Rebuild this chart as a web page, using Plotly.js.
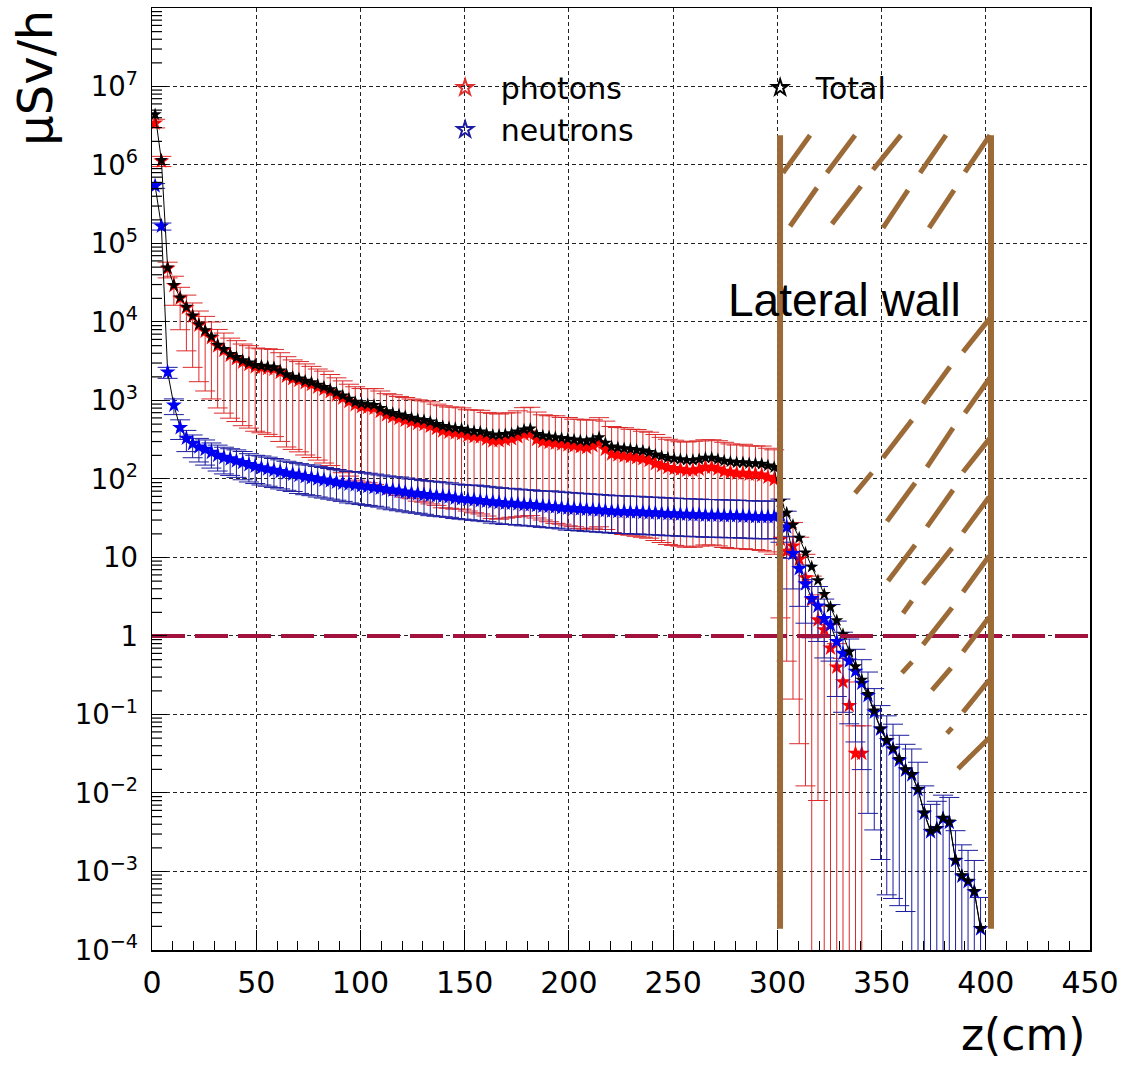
<!DOCTYPE html>
<html>
<head>
<meta charset="utf-8">
<script src="https://cdn.plot.ly/plotly-3.0.1.min.js"></script>
<style>html,body{margin:0;padding:0;background:#fff;}#chart{width:1123px;height:1065px;}</style>
</head>
<body>
<div id="chart"></div>
<script>
// depth z (cm), bin centres
const z = [
1.5,4.5,7.5,10.5,13.5,16.5,19.5,22.5,25.5,28.5,
31.5,34.5,37.5,40.5,43.5,46.5,49.5,52.5,55.5,58.5,
61.5,64.5,67.5,70.5,73.5,76.5,79.5,82.5,85.5,88.5,
91.5,94.5,97.5,100.5,103.5,106.5,109.5,112.5,115.5,118.5,
121.5,124.5,127.5,130.5,133.5,136.5,139.5,142.5,145.5,148.5,
151.5,154.5,157.5,160.5,163.5,166.5,169.5,172.5,175.5,178.5,
181.5,184.5,187.5,190.5,193.5,196.5,199.5,202.5,205.5,208.5,
211.5,214.5,217.5,220.5,223.5,226.5,229.5,232.5,235.5,238.5,
241.5,244.5,247.5,250.5,253.5,256.5,259.5,262.5,265.5,268.5,
271.5,274.5,277.5,280.5,283.5,286.5,289.5,292.5,295.5,298.5,
301.5,304.5,307.5,310.5,313.5,316.5,319.5,322.5,325.5,328.5,
331.5,334.5,337.5,340.5,343.5,346.5,349.5,352.5,355.5,358.5,
361.5,364.5,367.5,370.5,373.5,376.5,379.5,382.5,385.5,388.5,
391.5,394.5,397.5];

// dose rate, µSv/h
const total = [
4.4e6,1.15e6,4.9e4,2.95e4,2.04e4,1.55e4,1.2e4,9300,7800,6500,
5100,4500,3900,3550,3240,3020,2820,2750,2690,2630,
2400,2140,2000,1900,1780,1700,1580,1480,1380,1260,
1150,1050,955,910,890,870,795,725,690,660,
630,600,575,560,535,500,470,455,445,435,
415,405,400,380,363,363,372,380,400,425,
437,372,355,347,339,331,324,316,309,302,
316,339,288,257,251,245,240,234,229,219,
204,195,186,182,178,174,174,178,186,186,
178,170,166,162,162,158,158,155,148,141,
52,37,26,17.8,11.5,7.6,5.1,3.4,2.34,1.58,
1.05,0.63,0.41,0.275,0.182,0.112,0.066,0.047,0.037,0.027,
0.020,0.0174,0.0112,0.0056,0.0033,0.00355,0.0048,0.0043,0.0014,0.00089,
0.00076,0.00056,0.00019];

const photons = [
3.4e6,1.12e6,4.8e4,2.9e4,2.0e4,1.52e4,1.18e4,9100,7600,6300,
4950,4350,3750,3400,3080,2870,2680,2620,2560,2510,
2280,2030,1890,1800,1680,1600,1480,1390,1290,1170,
1070,970,880,835,815,795,725,655,620,590,
560,535,510,495,470,440,410,395,385,376,
356,346,342,322,306,307,317,325,345,370,
383,318,300,292,285,278,271,264,257,251,
265,289,238,208,202,196,192,186,181,172,
157,148,140,136,133,129,129,133,141,141,
134,125,122,118,118,115,115,112,105,98,
17,12,14,9.5,5.5,2.9,1.6,1.2,0.7,0.4,
0.26,0.13,0.032,0.032,null,null,null,null,null,null,
null,null,null,null,null,null,null,null,null,null,
null,null,null];

const neutrons = [
5.4e5,1.66e5,2300,870,450,330,282,255,238,218,
200,188,180,170,162,152,145,139,134,129,
124,119,115,111,107,104,100,97,94,91,
88,86,84,82,80,78,76,74,72,70,
68,66,65,63,62,61,60,59,57,56,
55,54,53,52,51,50,49,49,48,47,
47,46,45,44.5,44,43,42.5,42,41.5,41,
40.5,40,39.5,39,38.5,38.5,38,38,37.5,37,
37,36.5,36,36,35.5,35.5,35,35,34.5,34.5,
34.5,34,34,34,33.5,33.5,33,33,33,33,
35,24.5,11.2,7.2,4.6,3.0,2.4,1.66,1.38,0.85,
0.60,0.48,0.355,0.25,0.174,0.107,0.065,0.046,0.036,0.026,
0.0195,0.017,0.011,0.0055,0.0032,0.0035,0.0047,0.0042,0.00138,0.00087,
0.00074,0.00055,0.000186];

// error-bar ends, as decades above / below each point
const photonsErrUpDec = [
0.05,0.06,0.08,0.12,0.14,0.16,0.17,0.18,0.19,0.2,
0.21,0.22,0.22,0.23,0.23,0.24,0.24,0.24,0.25,0.25,
0.25,0.25,0.24,0.24,0.24,0.23,0.23,0.23,0.22,0.22,
0.22,0.22,0.23,0.23,0.24,0.25,0.26,0.27,0.28,0.28,
0.29,0.29,0.30,0.30,0.31,0.31,0.32,0.32,0.33,0.33,
0.33,0.34,0.34,0.34,0.35,0.34,0.34,0.33,0.33,0.34,
0.33,0.35,0.34,0.34,0.35,0.34,0.35,0.34,0.35,0.35,
0.33,0.32,0.36,0.35,0.35,0.36,0.35,0.36,0.35,0.36,
0.37,0.36,0.36,0.36,0.35,0.36,0.37,0.36,0.35,0.35,
0.36,0.37,0.36,0.36,0.37,0.36,0.36,0.37,0.37,0.38,
0.3,0.3,0.3,0.28,0.3,0.3,0.32,0.3,0.3,0.3,
0.3,0.3,0.35,0.35,0,0,0,0,0,0,
0,0,0,0,0,0,0,0,0,0,
0,0,0];
const photonsErrDnDec = [
0.06,0.07,0.12,0.25,0.4,0.55,0.65,0.72,0.76,0.78,
0.79,0.8,0.8,0.8,0.81,0.81,0.82,0.83,0.84,0.86,
0.88,0.9,0.9,0.91,0.92,0.93,0.93,0.94,0.94,0.95,
0.95,0.95,0.96,0.96,0.96,0.97,0.97,0.97,0.98,0.98,
0.98,0.98,0.99,0.99,0.99,0.98,0.98,0.97,0.97,0.96,
0.96,0.97,0.98,0.98,0.99,1.0,1.0,1.0,1.02,1.04,
1.05,1.0,1.0,1.01,1.02,1.02,1.03,1.03,1.04,1.04,
1.05,1.07,1.02,1.0,1.0,1.0,1.0,1.0,1.0,0.99,
0.98,0.98,0.98,0.98,0.98,0.98,0.98,0.98,0.99,0.99,
0.98,0.97,0.97,0.96,0.96,0.96,0.96,0.96,0.95,0.95,
1.0,1.4,1.95,2.35,2.65,9,2.3,9,9,9,
9,9,9,9,0,0,0,0,0,0,
0,0,0,0,0,0,0,0,0,0,
0,0,0];
const neutronsErrUpDec = [
0.03,0.04,0.06,0.08,0.1,0.1,0.11,0.11,0.12,0.12,
0.13,0.13,0.13,0.14,0.14,0.14,0.14,0.15,0.15,0.15,
0.15,0.15,0.15,0.15,0.15,0.16,0.16,0.16,0.16,0.16,
0.16,0.16,0.17,0.17,0.17,0.17,0.17,0.17,0.17,0.18,
0.18,0.18,0.18,0.18,0.18,0.18,0.18,0.18,0.18,0.18,
0.18,0.19,0.19,0.19,0.19,0.19,0.19,0.19,0.19,0.19,
0.19,0.19,0.19,0.2,0.2,0.2,0.2,0.2,0.2,0.2,
0.2,0.2,0.2,0.2,0.2,0.2,0.2,0.2,0.2,0.2,
0.2,0.2,0.2,0.2,0.2,0.2,0.2,0.2,0.2,0.2,
0.2,0.2,0.2,0.2,0.2,0.2,0.2,0.2,0.2,0.2,
0.2,0.2,0.22,0.22,0.24,0.24,0.25,0.25,0.26,0.26,
0.27,0.28,0.28,0.3,0.3,0.3,0.3,0.32,0.32,0.32,
0.33,0.33,0.35,0.35,0.35,0.35,0.3,0.32,0.38,0.4,
0.4,0.4,0.4];
const neutronsErrDnDec = [
0.03,0.05,0.08,0.12,0.15,0.17,0.18,0.19,0.2,0.2,
0.2,0.21,0.21,0.21,0.22,0.22,0.22,0.22,0.22,0.22,
0.22,0.22,0.22,0.23,0.23,0.23,0.23,0.23,0.23,0.23,
0.23,0.24,0.24,0.24,0.24,0.24,0.24,0.25,0.25,0.25,
0.25,0.25,0.25,0.25,0.26,0.26,0.26,0.26,0.26,0.26,
0.26,0.26,0.26,0.26,0.27,0.27,0.27,0.27,0.27,0.27,
0.27,0.27,0.27,0.27,0.27,0.27,0.28,0.28,0.28,0.28,
0.28,0.28,0.28,0.28,0.28,0.28,0.28,0.28,0.28,0.28,
0.28,0.28,0.28,0.28,0.28,0.28,0.28,0.28,0.28,0.28,
0.28,0.28,0.28,0.28,0.28,0.28,0.28,0.28,0.28,0.28,
0.35,0.4,0.45,0.48,0.5,0.5,0.45,0.5,0.46,0.7,
0.75,0.8,0.9,1.1,1.5,1.5,1.66,1.96,1.9,1.85,
1.8,9,9,9,9,9,9,9,9,9,
9,9,9];

// annotation texts
const legendNames = ['photons', 'Total', 'neutrons'];
const yTitle = '\u03bcSv/h';
const xTitle = 'z(cm)';
const wallLabel = 'Lateral wall';
const refLevel = 1; // µSv/h reference line

// shielding wall (z in cm, dose in decades)
const wallZ = [301.3, 402.5];
const wallDec = [-3.73, 6.38];
// hatch strokes: [z0, dec0, z1, dec1]
const hatch = [
[302.7,5.90,315.7,6.38],[323.8,5.90,337.3,6.38],[345.9,5.94,359.3,6.38],[368.5,5.90,380.9,6.38],[390.0,5.91,402.0,6.38],
[306.1,5.22,319.0,5.71],[326.2,5.25,340.1,5.73],[350.7,5.20,362.7,5.68],[372.8,5.20,384.8,5.68],
[389.1,3.62,402.0,4.05],[369.9,2.96,382.8,3.43],[390.0,2.84,402.0,3.29],
[350.7,2.27,364.6,2.75],[371.8,2.15,384.3,2.65],[389.1,2.09,402.0,2.52],
[337.3,1.82,345.4,2.08],[352.6,1.46,366.1,1.95],[371.8,1.39,384.3,1.86],[389.1,1.32,401.6,1.77],
[353.1,0.70,366.1,1.16],[369.9,0.66,383.8,1.12],[389.1,0.56,401.6,1.02],
[360.3,0.29,364.6,0.45],[369.9,-0.11,383.8,0.36],[389.1,-0.20,401.6,0.24],
[359.8,-0.47,364.6,-0.33],[374.2,-0.69,383.3,-0.41],[389.1,-0.97,401.6,-0.56],
[381.4,-1.24,383.8,-1.17],[386.7,-1.69,401.6,-1.30]
];

const Y_RANGE = [-4, 7.999];
const FONT = 'DejaVu Sans, Liberation Sans, sans-serif';
const BROWN = '#9b6a36';
const PAD = '\u00a0\u2009'; // gap between legend key and its label
const PLOT_W = 938; // plot-area width in px (for minor tick length)

function errPlus(vals, dec) { return vals.map((v, i) => v == null ? null : v * (Math.pow(10, dec[i]) - 1)); }
function errMinus(vals, dec) { return vals.map((v, i) => v == null ? null : v * (1 - Math.pow(10, -dec[i]))); }
function decToPaper(d) { return (d - Y_RANGE[0]) / (8 - Y_RANGE[0]); }

const traces = [
  {
    x: z, y: photons, type: 'scatter', mode: 'markers', showlegend: false, hoverinfo: 'x+y',
    marker: {symbol: 'star', size: 12, color: '#ff0000', line: {width: 0}},
    error_y: {type: 'data', symmetric: false, array: errPlus(photons, photonsErrUpDec),
              arrayminus: errMinus(photons, photonsErrDnDec), color: '#dd2a2a', thickness: 1, width: 10}
  },
  {
    x: z, y: neutrons, type: 'scatter', mode: 'lines+markers', showlegend: false, hoverinfo: 'x+y',
    line: {color: '#000000', width: 1},
    marker: {symbol: 'star', size: 12, color: '#0000f0', line: {width: 0}},
    error_y: {type: 'data', symmetric: false, array: errPlus(neutrons, neutronsErrUpDec),
              arrayminus: errMinus(neutrons, neutronsErrDnDec), color: '#1c1ca0', thickness: 1, width: 10}
  },
  {
    x: z, y: total, type: 'scatter', mode: 'lines+markers', showlegend: false, hoverinfo: 'x+y',
    line: {color: '#000000', width: 1},
    marker: {symbol: 'star', size: 10, color: '#000000', line: {width: 0}}
  },
  {
    x: [0, 450], y: [refLevel, refLevel], type: 'scatter', mode: 'lines', showlegend: false, hoverinfo: 'skip',
    line: {color: '#a3123f', width: 4, dash: '33px,10px'}
  },
  // legend entries (open stars as in the original key)
  {x: [null], y: [null], type: 'scatter', mode: 'markers', name: PAD + legendNames[0], legendrank: 1,
   marker: {symbol: 'star-open', size: 13, color: '#e03030', line: {width: 1}}},
  {x: [null], y: [null], type: 'scatter', mode: 'markers', name: PAD + legendNames[1], legendrank: 2,
   marker: {symbol: 'star-open', size: 13, color: '#000000', line: {width: 1}}},
  {x: [null], y: [null], type: 'scatter', mode: 'markers', name: PAD + legendNames[2], legendrank: 3,
   marker: {symbol: 'star-open', size: 13, color: '#1c1ca0', line: {width: 1}}}
];

const shapes = [];
// minor ticks (2..9) of the logarithmic y axis, drawn inward from the left frame
for (let p = -4; p <= 7; p++) {
  for (let k = 2; k <= 9; k++) {
    const yy = decToPaper(p + Math.log10(k));
    shapes.push({type: 'line', xref: 'paper', yref: 'paper', x0: 0, x1: 10 / PLOT_W, y0: yy, y1: yy,
                 line: {color: '#000', width: 1.2}, layer: 'above'});
  }
}
wallZ.forEach(zz => shapes.push({type: 'line', xref: 'x', yref: 'paper', x0: zz, x1: zz,
  y0: decToPaper(wallDec[0]), y1: decToPaper(wallDec[1]), line: {color: BROWN, width: 6}}));
hatch.forEach(h => shapes.push({type: 'line', xref: 'x', yref: 'paper', x0: h[0], x1: h[2],
  y0: decToPaper(h[1]), y1: decToPaper(h[3]), line: {color: BROWN, width: 5}}));

const layout = {
  width: 1123, height: 1065,
  margin: {l: 152, r: 33, t: 8, b: 115, pad: 0},
  paper_bgcolor: '#ffffff', plot_bgcolor: '#ffffff',
  font: {family: FONT, color: '#000'},
  showlegend: true,
  legend: {orientation: 'h', x: 0.3125, y: 0.943, xanchor: 'left', yanchor: 'top',
           bgcolor: 'rgba(0,0,0,0)', borderwidth: 0, font: {family: FONT, size: 30, color: '#000'},
           entrywidth: 270, entrywidthmode: 'pixels', traceorder: 'normal', itemsizing: 'constant'},
  xaxis: {
    range: [0, 450], tick0: 0, dtick: 50, ticks: 'inside', ticklen: 20, tickwidth: 1, tickcolor: '#000',
    minor: {dtick: 10, ticks: 'inside', ticklen: 9, tickwidth: 1, tickcolor: '#000', showgrid: false},
    showgrid: true, gridcolor: '#222', gridwidth: 1, griddash: '4px,3px',
    showline: true, linecolor: '#000', linewidth: 1.5, mirror: true, zeroline: false,
    tickfont: {family: FONT, size: 30, color: '#000'}, ticklabelstandoff: 5
  },
  yaxis: {
    type: 'log', range: Y_RANGE, dtick: 1, exponentformat: 'power',
    ticks: 'inside', ticklen: 15, tickwidth: 1, tickcolor: '#000',
    showgrid: true, gridcolor: '#222', gridwidth: 1, griddash: '4px,3px',
    showline: true, linecolor: '#000', linewidth: 1.5, mirror: true, zeroline: false,
    tickfont: {family: FONT, size: 22, color: '#000'}, ticklabelstandoff: 8
  },
  shapes: shapes,
  annotations: [
    {text: yTitle, xref: 'paper', yref: 'paper', x: -0.125, y: 1.0, xanchor: 'center', yanchor: 'top',
     textangle: -90, showarrow: false, font: {family: FONT, size: 48, color: '#000'}},
    {text: xTitle, xref: 'paper', yref: 'paper', x: 0.997, y: -0.09, xanchor: 'right', yanchor: 'middle',
     showarrow: false, font: {family: FONT, size: 44, color: '#000'}},
    {text: wallLabel, xref: 'x', yref: 'paper', x: 332, y: 0.69, xanchor: 'center', yanchor: 'middle',
     showarrow: false, font: {family: 'Liberation Sans, Arial, sans-serif', size: 46, color: '#000'}}
  ]
};

Plotly.newPlot('chart', traces, layout, {displayModeBar: false, staticPlot: true});
</script>
</body>
</html>
